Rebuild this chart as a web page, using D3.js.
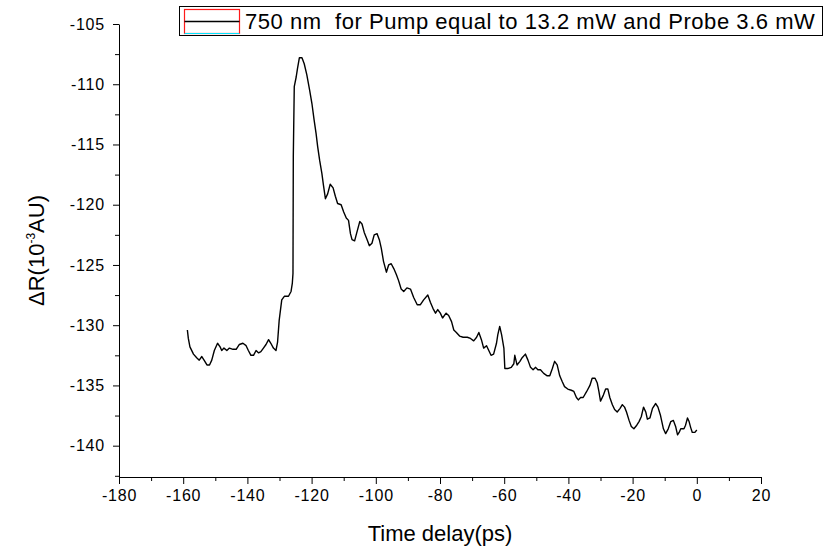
<!DOCTYPE html>
<html>
<head>
<meta charset="utf-8">
<script src="https://cdn.jsdelivr.net/npm/d3@7"></script>
<style>
    body{margin:0;background:#fff;}
    svg{display:block;font-family:"Liberation Sans",Arial,sans-serif;}
    .axis path,.axis line{stroke:#000;stroke-width:1;}
    .axis text{font-size:16px;fill:#000;letter-spacing:0.8px;font-family:"Liberation Sans",Arial,sans-serif;}
</style>
</head>
<body>
<div class="graph"></div>
<script>
// values
const timeDelay = [-158.7,-158.4,-157.9,-156.8,-155.8,-155.0,-154.2,-153.5,-152.6,-151.8,-151.1,-150.3,-149.3,-148.5,-148.0,-147.3,-146.4,-145.6,-144.5,-143.5,-142.5,-141.4,-140.4,-139.7,-138.9,-138.1,-137.3,-136.5,-135.8,-135.0,-134.2,-133.4,-132.7,-131.9,-131.1,-130.6,-130.1,-129.3,-128.5,-127.2,-126.4,-126.0,-125.8,-125.7,-125.4,-124.8,-124.4,-123.8,-123.0,-122.3,-121.5,-120.6,-119.9,-119.2,-118.6,-118.1,-117.5,-116.8,-116.3,-115.7,-115.0,-114.2,-113.3,-112.6,-111.9,-110.8,-110.0,-109.2,-108.5,-107.9,-107.4,-106.6,-105.9,-105.0,-104.3,-103.6,-102.7,-102.0,-101.2,-100.5,-99.6,-98.9,-98.3,-97.6,-96.7,-96.0,-95.2,-94.4,-93.6,-92.9,-92.1,-91.3,-90.3,-89.2,-88.2,-87.1,-86.1,-85.1,-83.8,-83.0,-82.2,-81.4,-80.7,-79.9,-79.2,-78.1,-77.3,-76.4,-75.7,-74.9,-73.9,-72.8,-71.5,-70.5,-69.5,-68.6,-67.9,-67.1,-66.4,-65.5,-64.8,-64.1,-63.3,-62.4,-62.0,-61.4,-60.8,-60.1,-59.8,-58.9,-57.8,-57.0,-56.7,-56.0,-55.1,-54.4,-53.4,-52.6,-51.8,-51.0,-50.2,-49.5,-48.7,-47.7,-46.6,-45.8,-45.0,-44.3,-43.5,-42.7,-41.9,-41.2,-40.2,-39.1,-38.3,-37.5,-36.9,-36.2,-35.4,-34.3,-33.3,-32.6,-31.7,-31.0,-30.5,-30.0,-29.1,-28.4,-27.7,-27.1,-26.3,-25.6,-24.8,-23.9,-23.2,-22.5,-21.9,-21.1,-20.4,-19.6,-18.7,-18.0,-17.3,-16.6,-15.9,-15.4,-14.6,-13.8,-12.8,-12.1,-11.3,-10.4,-9.7,-8.9,-8.1,-7.3,-6.6,-6.0,-5.5,-5.0,-4.0,-3.5,-2.9,-2.4,-1.9,-1.4,-0.6,0.0];

const deltaR = [-130.4,-131.1,-131.8,-132.4,-132.7,-132.9,-132.6,-132.9,-133.3,-133.3,-132.9,-132.1,-131.5,-131.8,-132.1,-131.9,-132.1,-131.9,-132.0,-132.0,-131.6,-131.5,-131.7,-132.1,-132.5,-132.5,-132.1,-132.3,-132.2,-131.9,-131.6,-131.2,-131.5,-131.9,-132.1,-131.4,-129.6,-127.9,-127.6,-127.6,-127.2,-126.5,-125.7,-116.0,-110.2,-109.4,-108.7,-107.8,-107.8,-108.3,-109.2,-110.5,-111.6,-113.0,-114.1,-115.2,-116.3,-117.4,-118.4,-119.5,-119.1,-118.3,-118.6,-119.3,-119.9,-120.0,-120.6,-121.1,-121.3,-122.4,-122.9,-123.0,-122.3,-121.4,-121.6,-122.3,-122.9,-123.4,-123.2,-122.5,-122.4,-122.9,-123.6,-124.7,-125.6,-125.0,-124.9,-125.3,-125.8,-126.3,-127.0,-127.2,-126.9,-127.0,-127.7,-128.3,-128.3,-127.9,-127.5,-128.1,-128.6,-129.0,-128.7,-129.0,-129.4,-129.0,-129.2,-129.7,-130.4,-130.6,-130.9,-131.0,-131.0,-131.1,-131.3,-131.0,-130.6,-131.2,-131.9,-131.7,-132.1,-132.5,-132.4,-131.5,-130.8,-130.1,-130.8,-131.9,-133.6,-133.6,-133.5,-133.2,-132.5,-133.3,-133.0,-132.7,-132.4,-132.9,-133.5,-133.7,-133.5,-133.7,-133.7,-134.0,-134.2,-134.2,-133.6,-133.0,-133.3,-134.2,-134.7,-135.1,-135.3,-135.4,-135.5,-136.0,-136.2,-136.0,-136.0,-135.5,-135.0,-134.4,-134.4,-134.8,-135.5,-136.3,-135.8,-135.3,-135.3,-136.0,-136.6,-137.0,-137.2,-136.9,-136.6,-136.8,-137.2,-137.9,-138.4,-138.6,-138.3,-138.0,-137.6,-136.8,-137.2,-137.8,-137.7,-136.9,-136.5,-136.8,-137.5,-138.6,-139.0,-138.6,-138.0,-137.9,-138.4,-139.1,-138.9,-138.6,-138.6,-138.3,-137.7,-138.0,-138.5,-138.9,-138.9,-138.7];

const xTicks = [-180,-160,-140,-120,-100,-80,-60,-40,-20,0,20];
const xMinorTicks = [-170,-150,-130,-110,-90,-70,-50,-30,-10,10];
const yTicks = [-105,-110,-115,-120,-125,-130,-135,-140];
const yMinorTicks = [-107.5,-112.5,-117.5,-122.5,-127.5,-132.5,-137.5,-142.5];

const xTitle = "Time delay(ps)";
const legendLabel = "750 nm  for Pump equal to 13.2 mW and Probe 3.6 mW";

const width = 825, height = 546;
const plotLeft = 119, plotRight = 761, plotTop = 24, plotBottom = 477;

//SVG canvas
const svg = d3.select(".graph").append("svg")
    .attr("width", width)
    .attr("height", height);

//Scales
const x = d3.scaleLinear().domain([-180, 20]).range([plotLeft, plotRight]);
const y = d3.scaleLinear().domain([-142.6, -105]).range([plotBottom, plotTop]);

//Axes, minor ticks first so the labelled ones sit on top
svg.append("g")
    .attr("class", "axis")
    .attr("transform", "translate(0," + plotBottom + ")")
    .call(d3.axisBottom(x).tickValues(xMinorTicks).tickSize(4).tickFormat(""))
    .select(".domain").remove();

svg.append("g")
    .attr("class", "axis")
    .attr("transform", "translate(" + plotLeft + ",0)")
    .call(d3.axisLeft(y).tickValues(yMinorTicks).tickSize(4).tickFormat(""))
    .select(".domain").remove();

svg.append("g")
    .attr("class", "axis")
    .attr("transform", "translate(0," + plotBottom + ")")
    .call(d3.axisBottom(x).tickValues(xTicks).tickSize(7).tickSizeOuter(0).tickPadding(6).tickFormat(d => String(d)));

svg.append("g")
    .attr("class", "axis")
    .attr("transform", "translate(" + plotLeft + ",0)")
    .call(d3.axisLeft(y).tickValues(yTicks).tickSize(6).tickSizeOuter(0).tickPadding(8).tickFormat(d => String(d)));

//Axis titles
svg.append("text")
    .attr("x", (plotLeft + plotRight) / 2)
    .attr("y", 541)
    .attr("text-anchor", "middle")
    .style("font-size", "22px")
    .text(xTitle);

const yTitle = svg.append("text")
    .attr("transform", "translate(44," + ((plotTop + plotBottom) / 2) + ") rotate(-90)")
    .attr("text-anchor", "middle")
    .style("font-size", "22px");
yTitle.append("tspan").text("\u0394R(10");
yTitle.append("tspan").attr("dy", -9).style("font-size", "12px").text("-3");
yTitle.append("tspan").attr("dy", 9).text("AU)");

//Data line
const line = d3.line()
    .x((d, i) => x(timeDelay[i]))
    .y(d => y(d));

svg.append("path")
    .datum(deltaR)
    .attr("fill", "none")
    .attr("stroke", "#000")
    .attr("stroke-width", 1.4)
    .attr("stroke-linejoin", "round")
    .attr("d", line);

//Legend
const legend = svg.append("g");
legend.append("rect")
    .attr("x", 179.5).attr("y", 6.5)
    .attr("width", 643).attr("height", 29)
    .attr("fill", "#fff").attr("stroke", "#000");
legend.append("rect")
    .attr("x", 184.5).attr("y", 9.5)
    .attr("width", 55).attr("height", 24)
    .attr("fill", "none").attr("stroke", "#ff1a1a").attr("stroke-width", 1.2);
legend.append("line")
    .attr("x1", 184.5).attr("x2", 239.5).attr("y1", 33.5).attr("y2", 33.5)
    .attr("stroke", "#00e5ff").attr("stroke-width", 1.2);
legend.append("line")
    .attr("x1", 184.5).attr("x2", 239.5).attr("y1", 21.5).attr("y2", 21.5)
    .attr("stroke", "#000").attr("stroke-width", 1.3);
legend.append("text")
    .attr("x", 245).attr("y", 29)
    .style("font-size", "22px")
    .style("letter-spacing", "0.55px")
    .style("white-space", "pre")
    .text(legendLabel);
</script>
</body>
</html>
